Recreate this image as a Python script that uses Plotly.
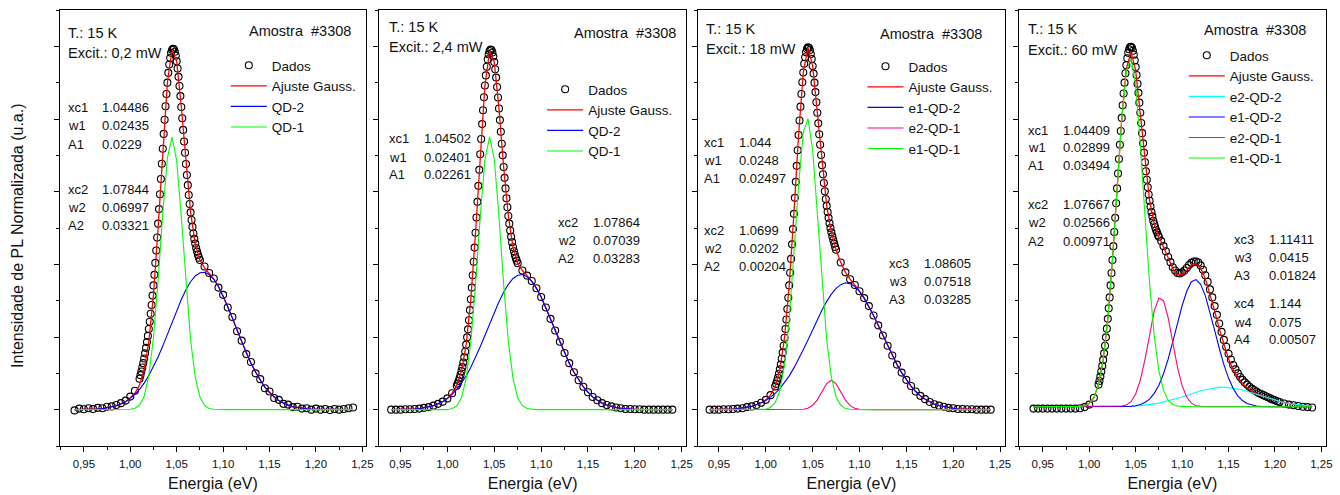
import plotly.graph_objects as go

W, H = 1340, 495

# Energia (eV) - grade das curvas de ajuste
ENERGY_FIT = [0.940, 0.945, 0.950, 0.955, 0.960, 0.965, 0.970, 0.975, 0.980, 0.985,
              0.990, 0.995, 1.000, 1.005, 1.010, 1.015, 1.020, 1.025, 1.030, 1.035,
              1.040, 1.045, 1.050, 1.055, 1.060, 1.065, 1.070, 1.075, 1.080, 1.085,
              1.090, 1.095, 1.100, 1.105, 1.110, 1.115, 1.120, 1.125, 1.130, 1.135,
              1.140, 1.145, 1.150, 1.155, 1.160, 1.165, 1.170, 1.175, 1.180, 1.185,
              1.190, 1.195, 1.200, 1.205, 1.210, 1.215, 1.220, 1.225, 1.230, 1.235, 1.240]

# Energia (eV) - pontos medidos
ENERGY_DATA = [0.940, 0.945, 0.950, 0.955, 0.960, 0.965, 0.970, 0.975, 0.980, 0.985,
               0.990, 0.995, 1.000, 1.005,
               1.010, 1.011, 1.012, 1.013, 1.014, 1.015, 1.016, 1.017, 1.018, 1.019,
               1.020, 1.021, 1.022, 1.023, 1.024, 1.025, 1.026, 1.027, 1.028, 1.029,
               1.030, 1.031, 1.032, 1.033, 1.034, 1.035, 1.036, 1.037, 1.038, 1.039,
               1.040, 1.041, 1.042, 1.043, 1.044, 1.045, 1.046, 1.047, 1.048, 1.049,
               1.050, 1.051, 1.052, 1.053, 1.054, 1.055, 1.056, 1.057, 1.058, 1.059,
               1.060, 1.061, 1.062, 1.063, 1.064, 1.065, 1.066, 1.067, 1.068, 1.069,
               1.070, 1.071, 1.072, 1.073, 1.074, 1.075,
               1.080, 1.085, 1.090, 1.095, 1.100, 1.105, 1.110, 1.115, 1.120, 1.125,
               1.130, 1.135, 1.140, 1.145, 1.150, 1.155, 1.160, 1.165, 1.170, 1.175,
               1.180, 1.185, 1.190, 1.195, 1.200, 1.205, 1.210, 1.215, 1.220, 1.225,
               1.230, 1.235, 1.240]
ENERGY_P4_EXTRA = [1.0775, 1.0825, 1.0875, 1.0925, 1.0975, 1.1025, 1.1075, 1.1125, 1.1175,
                   1.1225, 1.1275, 1.1325, 1.1375, 1.1425, 1.1475, 1.1525, 1.1575, 1.1625,
                   1.1675, 1.1725, 1.1775, 1.1825, 1.1875, 1.1925, 1.1975, 1.2025]

# Intensidade de PL normalizada (x1000)
P1_DADOS = [-2, 3, 1, 4, 2, 5, 4, 8, 9, 13, 18, 25, 36, 52,
            85, 95, 105, 116, 128, 141, 155, 170, 186, 203, 222, 242, 264, 288, 314, 342,
            371, 404, 438, 474, 512, 552, 593, 635, 677, 718, 759, 798, 835, 869, 900, 927,
            950, 968, 982, 990, 993, 992, 985, 974, 959, 939, 916, 891, 863, 833, 802, 770,
            738, 707, 676, 646, 618, 591, 566, 543, 522, 503, 485, 470, 457, 445, 435, 426,
            418, 412,
            394, 376, 361, 336, 316, 281, 255, 216, 190, 153, 131, 100, 84, 59, 50, 32, 27,
            16, 14, 7, 8, 3, 4, 0, 3, 0, 2, -1, 2, 0, 2, 4, 6]
P1_AJUSTE = [0, 0, 0, 1, 1, 2, 3, 5, 7, 11, 16, 22, 32, 45, 68, 110, 187, 316, 501, 716,
             900, 990, 959, 833, 676, 543, 457, 412, 390, 375, 359, 339, 313, 284, 252, 219,
             187, 156, 128, 103, 81, 62, 47, 35, 25, 18, 12, 8, 6, 4, 2, 1, 1, 1, 0, 0, 0,
             0, 0, 0, 0]
P1_QD2 = [0, 0, 0, 1, 1, 2, 3, 5, 7, 11, 16, 22, 31, 42, 56, 73, 94, 118, 145, 175, 207,
          240, 272, 303, 330, 352, 368, 377, 378, 372, 359, 339, 313, 284, 252, 219, 187,
          156, 128, 103, 81, 62, 47, 35, 25, 18, 12, 8, 6, 4, 2, 1, 1, 1, 0, 0, 0, 0, 0, 0, 0]
P1_QD1 = [0, 0, 0, 0, 0, 0, 0, 0, 0, 0, 0, 0, 1, 4, 12, 37, 93, 198, 356, 541, 693, 750,
          686, 530, 346, 191, 89, 35, 12, 3, 1, 0, 0, 0, 0, 0, 0, 0, 0, 0, 0, 0, 0, 0, 0,
          0, 0, 0, 0, 0, 0, 0, 0, 0, 0, 0, 0, 0, 0, 0, 0]

P2_DADOS = [0, 0, 0, 1, 1, 2, 3, 5, 7, 11, 16, 22, 31, 45,
            66, 72, 79, 87, 96, 106, 117, 130, 144, 160, 179, 199, 221, 246, 274, 304, 336,
            370, 407, 446, 487, 529, 572, 616, 660, 703, 745, 786, 824, 860, 892, 920, 944,
            964, 978, 987, 991, 990, 983, 972, 957, 937, 914, 888, 859, 829, 797, 765, 732,
            700, 668, 638, 609, 582, 557, 533, 512, 493, 476, 461, 447, 436, 426, 417, 410,
            403,
            383, 369, 354, 334, 310, 281, 250, 218, 187, 156, 128, 103, 81, 63, 48, 35, 26,
            18, 13, 9, 6, 4, 2, 2, 1, 1, 0, 0, 0, 0, 0, 0, 0]
P2_AJUSTE = [0, 0, 0, 1, 1, 2, 3, 5, 7, 11, 16, 22, 31, 45, 66, 106, 179, 304, 487, 703,
             892, 987, 957, 829, 668, 533, 447, 403, 383, 369, 354, 334, 310, 281, 250, 218,
             187, 156, 128, 103, 81, 63, 48, 35, 26, 18, 13, 9, 6, 4, 2, 2, 1, 1, 0, 0, 0,
             0, 0, 0, 0]
P2_QD2 = [0, 0, 0, 1, 1, 2, 3, 5, 7, 11, 16, 22, 31, 42, 56, 73, 93, 117, 143, 173, 204,
          236, 267, 297, 323, 345, 361, 370, 372, 366, 353, 334, 310, 281, 250, 218, 187,
          156, 128, 103, 81, 63, 48, 35, 26, 18, 13, 9, 6, 4, 2, 2, 1, 1, 0, 0, 0, 0, 0, 0, 0]
P2_QD1 = [0, 0, 0, 0, 0, 0, 0, 0, 0, 0, 0, 0, 0, 3, 10, 33, 86, 187, 344, 530, 688, 751,
          690, 532, 345, 188, 86, 33, 11, 3, 1, 0, 0, 0, 0, 0, 0, 0, 0, 0, 0, 0, 0, 0, 0,
          0, 0, 0, 0, 0, 0, 0, 0, 0, 0, 0, 0, 0, 0, 0, 0]

P3_DADOS = [0, 0, 0, 1, 1, 2, 3, 4, 7, 9, 13, 19, 27, 40,
            64, 71, 79, 88, 99, 111, 124, 140, 157, 176, 198, 222, 248, 277, 308, 342, 377,
            415, 455, 497, 539, 583, 627, 671, 714, 756, 796, 834, 869, 901, 928, 952, 970,
            984, 993, 997, 996, 990, 979, 965, 946, 925, 900, 874, 846, 817, 788, 758, 729,
            701, 673, 648, 624, 601, 580, 561, 544, 528, 513, 500, 488, 477, 467, 457, 448,
            440,
            405, 378, 359, 343, 326, 307, 285, 259, 232, 204, 176, 149, 124, 102, 82, 65,
            50, 38, 29, 21, 15, 11, 8, 5, 4, 2, 2, 1, 1, 0, 0, 0, 0]
P3_AJUSTE = [0, 0, 0, 1, 1, 2, 3, 4, 7, 9, 13, 19, 27, 40, 64, 111, 198, 342, 539, 756,
             928, 997, 946, 817, 673, 561, 488, 440, 405, 378, 359, 343, 326, 307, 285, 259,
             232, 204, 176, 149, 124, 102, 82, 65, 50, 38, 29, 21, 15, 11, 8, 5, 4, 2, 2, 1,
             1, 0, 0, 0, 0]
P3_E1_QD2 = [0, 0, 0, 1, 1, 2, 3, 4, 7, 9, 13, 19, 25, 34, 45, 58, 74, 93, 115, 139, 165,
             192, 220, 248, 274, 298, 318, 334, 344, 349, 347, 339, 325, 307, 285, 259, 232,
             204, 176, 149, 124, 102, 82, 65, 50, 38, 29, 21, 15, 11, 8, 5, 4, 2, 2, 1, 1,
             0, 0, 0, 0]
P3_E2_QD1 = [0, 0, 0, 0, 0, 0, 0, 0, 0, 0, 0, 0, 0, 0, 0, 0, 0, 0, 0, 0, 1, 4, 12, 27, 50,
             72, 81, 71, 49, 26, 11, 4, 1, 0, 0, 0, 0, 0, 0, 0, 0, 0, 0, 0, 0, 0, 0, 0, 0,
             0, 0, 0, 0, 0, 0, 0, 0, 0, 0, 0, 0]
P3_E1_QD1 = [0, 0, 0, 0, 0, 0, 0, 0, 0, 0, 0, 0, 1, 6, 19, 52, 123, 248, 425, 617, 763,
             801, 715, 542, 349, 191, 89, 35, 12, 3, 1, 0, 0, 0, 0, 0, 0, 0, 0, 0, 0, 0, 0,
             0, 0, 0, 0, 0, 0, 0, 0, 0, 0, 0, 0, 0, 0, 0, 0, 0, 0]

P4_DADOS = [3, 3, 3, 3, 3, 3, 3, 3, 3, 3, 4, 7, 14, 33,
            69, 79, 91, 105, 120, 137, 155, 176, 199, 223, 250, 279, 309, 342, 376, 412,
            450, 489, 528, 568, 609, 650, 690, 729, 767, 803, 838, 870, 900, 926, 948, 967,
            982, 992, 998, 999, 996, 988, 977, 961, 943, 921, 897, 872, 845, 817, 789, 761,
            733, 707, 681, 656, 633, 612, 592, 575, 559, 544, 532, 520, 511, 502, 494, 488,
            481, 476,
            450, 420, 392, 376, 378, 390, 404, 408, 397, 370, 331, 285, 237, 192, 154, 123,
            100, 82, 69, 58, 50, 43, 37, 31, 26, 21, 17, 14, 12, 10, 8, 7, 6]
P4_DADOS_EXTRA = [464, 436, 406, 383, 375, 383, 398, 408, 405, 385, 352, 309, 261, 214,
                  173, 138, 111, 90, 75, 63, 54, 46, 40, 34, 28, 23]
P4_AJUSTE = [8, 8, 8, 8, 8, 8, 8, 8, 8, 8, 9, 11, 17, 33, 69, 137, 250, 412, 609, 801,
             939, 985, 933, 814, 680, 575, 511, 476, 448, 417, 388, 371, 372, 384, 398, 402,
             390, 361, 320, 272, 223, 178, 140, 110, 88, 71, 60, 51, 44, 39, 34, 30, 26, 22,
             19, 17, 15, 13, 12, 11, 10]
P4_E2_QD2 = [8, 8, 8, 8, 8, 8, 8, 8, 8, 8, 8, 8, 8, 8, 8, 8, 8, 8, 9, 9, 9, 10, 10, 11,
             12, 14, 16, 18, 21, 24, 27, 31, 35, 39, 44, 48, 52, 55, 58, 60, 62, 62, 61, 60,
             57, 54, 50, 46, 42, 38, 33, 29, 26, 22, 19, 17, 15, 13, 12, 11, 10]
P4_E1_QD2 = [8, 8, 8, 8, 8, 8, 8, 8, 8, 8, 8, 8, 8, 8, 8, 8, 8, 8, 8, 8, 9, 9, 11, 14, 20,
             29, 45, 67, 99, 139, 187, 237, 286, 326, 352, 358, 345, 314, 270, 219, 169,
             124, 87, 58, 38, 25, 17, 13, 10, 9, 8, 8, 8, 8, 8, 8, 8, 8, 8, 8, 8]
P4_E2_QD1 = [8, 8, 8, 8, 8, 8, 8, 8, 8, 8, 8, 8, 8, 8, 8, 8, 8, 8, 8, 10, 13, 22, 43, 81,
             138, 208, 272, 307, 300, 253, 184, 117, 66, 34, 18, 11, 9, 8, 8, 8, 8, 8, 8,
             8, 8, 8, 8, 8, 8, 8, 8, 8, 8, 8, 8, 8, 8, 8, 8, 8, 8]
P4_E1_QD1 = [8, 8, 8, 8, 8, 8, 8, 8, 8, 8, 9, 11, 17, 33, 69, 136, 250, 412, 608, 798,
             932, 968, 893, 732, 535, 348, 203, 107, 53, 26, 14, 10, 9, 8, 8, 8, 8, 8, 8,
             8, 8, 8, 8, 8, 8, 8, 8, 8, 8, 8, 8, 8, 8, 8, 8, 8, 8, 8, 8, 8, 8]

EXCITACAO = ["0,2 mW", "2,4 mW", "18 mW", "60 mW"]
P1_PARAMS = [["xc1", "1.04486"], ["w1", "0.02435"], ["A1", "0.0229"],
             ["xc2", "1.07844"], ["w2", "0.06997"], ["A2", "0.03321"]]
P2_PARAMS = [["xc1", "1.04502"], ["w1", "0.02401"], ["A1", "0.02261"],
             ["xc2", "1.07864"], ["w2", "0.07039"], ["A2", "0.03283"]]
P3_PARAMS = [["xc1", "1.044"], ["w1", "0.0248"], ["A1", "0.02497"],
             ["xc2", "1.0699"], ["w2", "0.0202"], ["A2", "0.00204"],
             ["xc3", "1.08605"], ["w3", "0.07518"], ["A3", "0.03285"]]
P4_PARAMS = [["xc1", "1.04409"], ["w1", "0.02899"], ["A1", "0.03494"],
             ["xc2", "1.07667"], ["w2", "0.02566"], ["A2", "0.00971"],
             ["xc3", "1.11411"], ["w3", "0.0415"], ["A3", "0.01824"],
             ["xc4", "1.144"], ["w4", "0.075"], ["A4", "0.00507"]]

BLUE, GREEN, PINK, CYAN = "#0000FF", "#00FF00", "#FF0080", "#00FFFF"

panels = [
    dict(x=ENERGY_DATA, y=P1_DADOS, fit=P1_AJUSTE, params=P1_PARAMS,
         comps=[("QD-2", P1_QD2, BLUE), ("QD-1", P1_QD1, GREEN)]),
    dict(x=ENERGY_DATA, y=P2_DADOS, fit=P2_AJUSTE, params=P2_PARAMS,
         comps=[("QD-2", P2_QD2, BLUE), ("QD-1", P2_QD1, GREEN)]),
    dict(x=ENERGY_DATA, y=P3_DADOS, fit=P3_AJUSTE, params=P3_PARAMS,
         comps=[("e1-QD-2", P3_E1_QD2, BLUE), ("e2-QD-1", P3_E2_QD1, PINK),
                ("e1-QD-1", P3_E1_QD1, GREEN)]),
    dict(x=ENERGY_DATA + ENERGY_P4_EXTRA, y=P4_DADOS + P4_DADOS_EXTRA, fit=P4_AJUSTE,
         params=P4_PARAMS,
         comps=[("e2-QD-2", P4_E2_QD2, CYAN), ("e1-QD-2", P4_E1_QD2, BLUE),
                ("e2-QD-1", P4_E2_QD1, PINK), ("e1-QD-1", P4_E1_QD1, GREEN)]),
]

# geometry of the four frames, in pixels of the 1340x495 page
BOX_LEFT = [60, 381, 702, 1024]
BOX_RIGHT = [368, 690, 1010, 1333]
BOX_TOP, BOX_BOTTOM = 10, 446
X_RANGES = [[0.924, 1.254], [0.927, 1.255], [0.928, 1.255], [0.924, 1.255]]
# (T label), (Excit label), (Amostra right edge), (legend line start, first row)
HEAD_POS = [((66, 33), (66, 53), (355, 31), (232, 65)),
            ((389, 27), (389, 47), (682, 33), (550, 89)),
            ((708, 29), (708, 49), (989, 34), (872, 66)),
            ((1031, 29), (1031, 50), (1315, 30), (1195, 55))]
# rows of fit parameters: (label x, value x, y)
PARAM_POS = [
    [(66, 101, y) for y in (107, 126, 144, 189, 207, 225)],
    [(389, 424, y) for y in (138, 157, 174)] + [(559, 594, y) for y in (222, 240, 258)],
    [(706, 741, y) for y in (142, 160, 178, 230, 248, 266)] + [(892, 927, y) for y in (263, 281, 299)],
    [(1031, 1067, y) for y in (130, 148, 166, 204, 222, 241)] + [(1238, 1274, y) for y in (239, 257, 275, 303, 322, 339)],
]

TXT = "#111111"


def px(x):
    return x / W


def py(y):
    return 1 - y / H


def note(x, y, text, size, anchor="left"):
    return dict(x=px(x), y=py(y), xref="paper", yref="paper", text=text, showarrow=False,
                xanchor=anchor, yanchor="middle", font=dict(size=size, color=TXT))


fig = go.Figure()
annotations = []

for i, p in enumerate(panels):
    k = "" if i == 0 else str(i + 1)
    leg = "legend" + k
    fig.add_trace(go.Scatter(x=p["x"], y=p["y"], mode="markers", name="Dados",
                             marker=dict(symbol="circle-open", size=7, color="black",
                                         line=dict(width=1.1)),
                             xaxis="x" + k, yaxis="y" + k, legend=leg))
    fig.add_trace(go.Scatter(x=ENERGY_FIT, y=p["fit"], mode="lines", name="Ajuste Gauss.",
                             line=dict(color="#FF0000", width=1.3),
                             xaxis="x" + k, yaxis="y" + k, legend=leg))
    for name, vals, color in p["comps"]:
        fig.add_trace(go.Scatter(x=ENERGY_FIT, y=vals, mode="lines", name=name,
                                 line=dict(color=color, width=1.1),
                                 xaxis="x" + k, yaxis="y" + k, legend=leg))

    fig.update_layout(**{
        "xaxis" + k: dict(domain=[px(BOX_LEFT[i]), px(BOX_RIGHT[i])], range=X_RANGES[i],
                          anchor="y" + k, showline=True, mirror=True, linecolor="black",
                          linewidth=1.3, ticks="outside", ticklen=5, tickcolor="black",
                          tick0=0.95, dtick=0.05, tickformat=".2f", ticklabelstandoff=2,
                          minor=dict(ticks="outside", ticklen=3, tick0=0.95, dtick=0.025,
                                     tickcolor="black"),
                          showgrid=False, zeroline=False,
                          tickfont=dict(size=11.5, color=TXT),
                          title=dict(text="Energia (eV)", font=dict(size=16, color=TXT),
                                     standoff=8)),
        "yaxis" + k: dict(domain=[py(BOX_BOTTOM), py(BOX_TOP)], range=[-100, 1100],
                          anchor="x" + k, showline=True, mirror=True, linecolor="black",
                          linewidth=1.3, ticks="outside", ticklen=5, tickcolor="black",
                          tick0=0, dtick=200, showticklabels=False,
                          minor=dict(ticks="outside", ticklen=3, dtick=100, tickcolor="black"),
                          showgrid=False, zeroline=False),
    })

    t_pos, e_pos, a_pos, l_pos = HEAD_POS[i]
    fig.update_layout(**{
        leg: dict(x=px(l_pos[0] - 5), y=py(l_pos[1] - 15), xanchor="left", yanchor="top",
                  bgcolor="rgba(0,0,0,0)", borderwidth=0, itemwidth=36, tracegroupgap=0,
                  font=dict(size=13.5, color=TXT)),
    })
    annotations.append(note(t_pos[0], t_pos[1], "T.: 15 K", 14.5))
    annotations.append(note(e_pos[0], e_pos[1], "Excit.: " + EXCITACAO[i], 14.5))
    annotations.append(note(a_pos[0], a_pos[1], "Amostra\u00a0 #3308", 14.5, "right"))
    for (lx, vx, y), (label, value) in zip(PARAM_POS[i], p["params"]):
        annotations.append(note(lx, y, label, 13))
        annotations.append(note(vx, y, value, 13))

annotations.append(dict(x=px(18), y=py(236), xref="paper", yref="paper",
                        text="Intensidade de PL Normalizada (u.a.)", textangle=-90,
                        showarrow=False, xanchor="center", yanchor="middle",
                        font=dict(size=16, color=TXT)))

fig.update_layout(width=W, height=H, margin=dict(l=0, r=0, t=0, b=0), separators=", ",
                  plot_bgcolor="white", paper_bgcolor="white", showlegend=True,
                  font=dict(family="Liberation Sans", color=TXT),
                  annotations=annotations)

# the page body keeps an 8px default margin; drop it so the 1340x495 figure fits the window
fig.write_html("out.html", config={"displayModeBar": False},
               post_script="document.body.style.margin = '0';")
